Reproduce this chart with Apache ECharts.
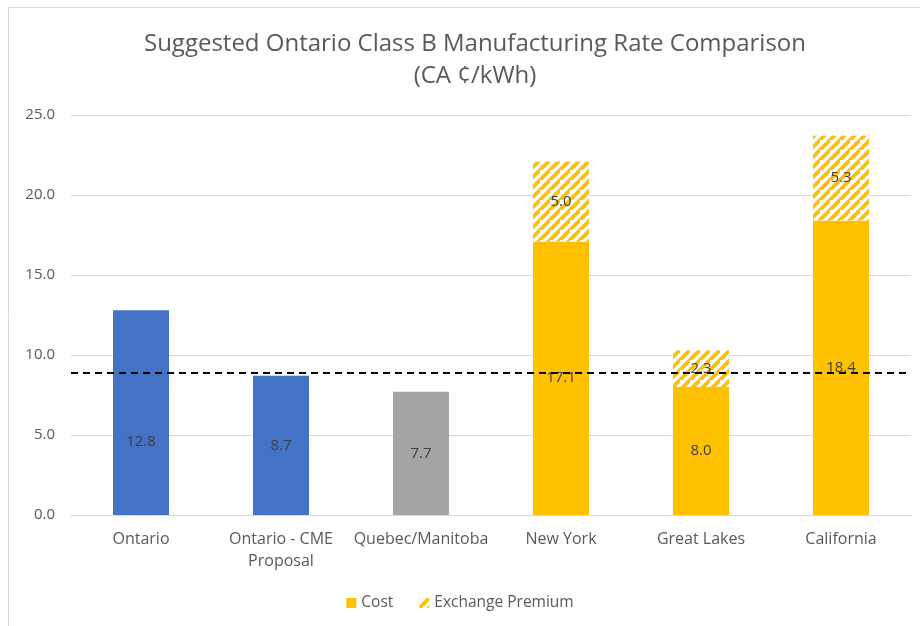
<!DOCTYPE html>
<html>
<head>
<meta charset="utf-8">
<script src="https://cdn.jsdelivr.net/npm/echarts@6/dist/echarts.min.js"></script>
<style>html,body{margin:0;padding:0;background:#fff}#c{width:920px;height:626px}</style>
</head>
<body>
<div id="c"></div>
<script>
const categories = ['Ontario', 'Ontario - CME\nProposal', 'Quebec/Manitoba', 'New York', 'Great Lakes', 'California'];
const costValues = [12.8, 8.7, 7.7, 17.1, 8.0, 18.4];
const premiumValues = [null, null, null, 5.0, 2.3, 5.3];
const thresholdValue = 8.9;
const yTicks = [0, 5, 10, 15, 20, 25];

const BLUE = '#4472C4', GRAY = '#A5A5A5', ORANGE = '#FFC000';
const costColors = [BLUE, BLUE, GRAY, ORANGE, ORANGE, ORANGE];

function hatch() {
  const s = 10;
  const c = document.createElement('canvas');
  c.width = s; c.height = s;
  const g = c.getContext('2d');
  g.fillStyle = '#fff'; g.fillRect(0, 0, s, s);
  g.strokeStyle = ORANGE; g.lineWidth = 3.8;
  g.beginPath();
  g.moveTo(-s, s * 2); g.lineTo(s * 2, -s);
  g.moveTo(-s * 2, s); g.lineTo(s, -s * 2);
  g.moveTo(0, s * 2); g.lineTo(s * 2, 0);
  g.stroke();
  return c;
}
const pattern = { image: hatch(), repeat: 'repeat' };

const FONT = '"Open Sans", Lato, sans-serif';
const chart = echarts.init(document.getElementById('c'), null, { renderer: 'canvas' });
chart.setOption({
  animation: false,
  title: {
    text: 'Suggested Ontario Class B Manufacturing Rate Comparison\n(CA ¢/kWh)',
    left: 470, top: 23, textAlign: 'center',
    textStyle: { fontFamily: FONT, fontSize: 24, fontWeight: 'normal', color: '#595959', lineHeight: 32 }
  },
  graphic: [{
    type: 'rect', shape: { x: 8.5, y: 7.5, width: 1000, height: 1000 },
    style: { fill: 'none', stroke: '#D9D9D9', lineWidth: 1 }, silent: true, z: -10
  }],
  legend: {
    bottom: 10, left: 'center', itemWidth: 10, itemHeight: 10, itemGap: 26,
    textStyle: { fontFamily: FONT, fontSize: 15.5, color: '#595959' },
    data: [{ name: 'Cost', icon: 'rect' }, { name: 'Exchange Premium', icon: 'rect' }]
  },
  grid: { left: 71, right: 9, top: 115, bottom: 111, containLabel: false },
  xAxis: {
    type: 'category', data: categories,
    axisLine: { show: true, lineStyle: { color: '#D9D9D9' } },
    axisTick: { show: false },
    axisLabel: { fontFamily: FONT, fontSize: 16, color: '#595959', margin: 13, lineHeight: 22, interval: 0 }
  },
  yAxis: {
    type: 'value', min: 0, max: 25, interval: 5,
    axisLine: { show: false }, axisTick: { show: false },
    splitLine: { lineStyle: { color: '#D9D9D9', width: 1 } },
    axisLabel: { fontFamily: FONT, fontSize: 15, color: '#595959', margin: 16,
      formatter: v => yTicks.includes(v) ? v.toFixed(1) : '' }
  },
  series: [
    {
      name: 'Cost', type: 'bar', stack: 's', barWidth: '40%',
      itemStyle: { color: ORANGE },
      data: costValues.map((v, i) => ({
        value: v, itemStyle: { color: costColors[i] },
        label: i === 0 ? { offset: [0, 29] } : undefined
      })),
      label: { show: true, position: 'inside', fontFamily: FONT, fontSize: 15, color: '#404040',
        formatter: p => p.value.toFixed(1) },
      markLine: {
        silent: true, symbol: 'none', label: { show: false },
        lineStyle: { color: '#000', type: [7, 5], width: 2 },
        data: [{ yAxis: thresholdValue }]
      }
    },
    {
      name: 'Exchange Premium', type: 'bar', stack: 's', barWidth: '40%',
      itemStyle: { color: pattern },
      data: premiumValues.map(v => v == null ? '-' : v),
      label: { show: true, position: 'inside', fontFamily: FONT, fontSize: 15, color: '#404040',
        formatter: p => (typeof p.value === 'number') ? p.value.toFixed(1) : '' }
    }
  ]
});
</script>
</body>
</html>
